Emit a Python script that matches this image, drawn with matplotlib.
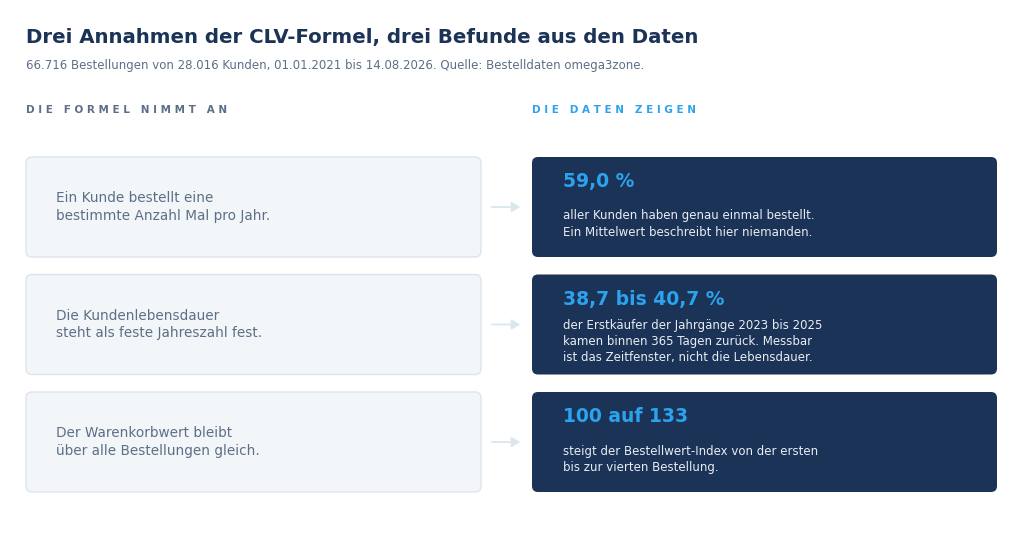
import matplotlib
matplotlib.use("Agg")
import matplotlib.pyplot as plt
from matplotlib.patches import FancyBboxPatch, FancyArrowPatch

plt.rcParams['font.family'] = ['DejaVu Sans']

#%% Content
title = "Drei Annahmen der CLV-Formel, drei Befunde aus den Daten"
subtitle = ("66.716 Bestellungen von 28.016 Kunden, 01.01.2021 bis 14.08.2026. "
            "Quelle: Bestelldaten omega3zone.")
label_left = "DIE FORMEL NIMMT AN"
label_right = "DIE DATEN ZEIGEN"

assumptions = [
    "Ein Kunde bestellt eine\nbestimmte Anzahl Mal pro Jahr.",
    "Die Kundenlebensdauer\nsteht als feste Jahreszahl fest.",
    "Der Warenkorbwert bleibt\nüber alle Bestellungen gleich.",
]
findings = ["59,0 %", "38,7 bis 40,7 %", "100 auf 133"]
finding_texts = [
    "aller Kunden haben genau einmal bestellt.\nEin Mittelwert beschreibt hier niemanden.",
    "der Erstkäufer der Jahrgänge 2023 bis 2025\nkamen binnen 365 Tagen zurück. Messbar\nist das Zeitfenster, nicht die Lebensdauer.",
    "steigt der Bestellwert-Index von der ersten\nbis zur vierten Bestellung.",
]

#%% Style
NAVY = "#1b3357"
SLATE = "#5d6f86"
BLUE = "#2ba3ee"
LIGHT_BG = "#f3f6f9"
LIGHT_EDGE = "#dce5ed"


def spaced(s):
    # fake css letter-spacing
    return "   ".join(" ".join(w) for w in s.split(" "))


W, H = 1024, 541
fig = plt.figure(figsize=(W / 100, H / 100), dpi=100)
ax = fig.add_axes([0, 0, 1, 1])
ax.set_xlim(0, W)
ax.set_ylim(H, 0)
ax.axis("off")

ax.text(26, 38, title, fontsize=14.2, fontweight="bold", color=NAVY, va="center")
ax.text(26, 66, subtitle, fontsize=8.45, color=SLATE, va="center")
ax.text(26, 110, spaced(label_left), fontsize=7.5, fontweight="bold", color=SLATE, va="center")
ax.text(532, 110, spaced(label_right), fontsize=7.5, fontweight="bold", color=BLUE, va="center")

box_h = 100
row_gap = 117.5
top0 = 157
for i in range(len(assumptions)):
    top = top0 + i * row_gap
    mid = top + box_h / 2
    left = FancyBboxPatch((26, top), 455, box_h, boxstyle="round,pad=0,rounding_size=6",
                          fc=LIGHT_BG, ec=LIGHT_EDGE, lw=1)
    ax.add_patch(left)
    ax.text(56, mid, assumptions[i], fontsize=9.8, color=SLATE, va="center",
            linespacing=1.35)

    right = FancyBboxPatch((532, top), 465, box_h, boxstyle="round,pad=0,rounding_size=6",
                           fc=NAVY, ec="none")
    ax.add_patch(right)
    ax.text(563, top + 25, findings[i], fontsize=13.5, fontweight="bold", color=BLUE,
            va="center")
    ax.text(563, top + 67, finding_texts[i], fontsize=8.45, color="#e8edf3", va="center",
            linespacing=1.3)

    arr = FancyArrowPatch((489, mid), (523, mid), arrowstyle="-|>,head_length=5,head_width=3",
                          color="#dbe7ec", lw=1.3)
    ax.add_patch(arr)

fig.savefig("out.png", dpi=100, facecolor="white")
